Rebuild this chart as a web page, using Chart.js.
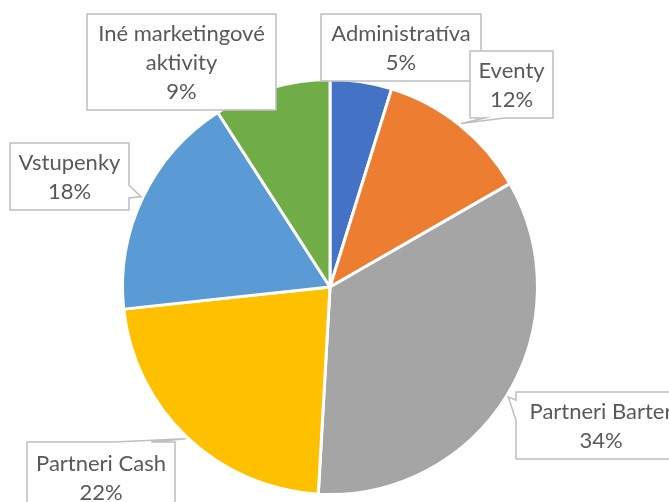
<!DOCTYPE html>
<html>
<head>
<meta charset="utf-8">
<script src="https://cdn.jsdelivr.net/npm/chart.js@4/dist/chart.umd.min.js"></script>
<style>
  html, body { margin: 0; padding: 0; background: #fff; }
  canvas { display: block; }
</style>
</head>
<body>
<canvas id="myChart" width="669" height="502"></canvas>
<script>
'use strict';

// categories and shares (percent of the whole)
let categories = [
  'Administratíva', 'Eventy', 'Partneri Barter',
  'Partneri Cash', 'Vstupenky', 'Iné marketingové aktivity'
];
let shares = [ 4.8, 11.9, 34.2, 22.4, 17.6, 9.1 ];
let colors = [ '#4472C4', '#ED7D31', '#A5A5A5', '#FFC000', '#5B9BD5', '#70AD47' ];

const FONT = '22px Lato';
const LINE_H = 29;

// split a label into lines that fit the box
function wrap ( ctx, text, maxW ) {
  let words = text.split( ' ' );
  let lines = [];
  let cur = '';
  for ( let i = 0; i < words.length; i++ ) {
    let test = cur ? cur + ' ' + words[i] : words[i];
    if ( cur && ctx.measureText( test ).width > maxW ) {
      lines.push( cur );
      cur = words[i];
    } else {
      cur = test;
    }
  }
  if ( cur ) lines.push( cur );
  return lines;
}

// box outline with a wedge pointing at the slice
function calloutPath ( ctx, b, tip ) {
  let x0 = b.x, y0 = b.y, x1 = b.x + b.w, y1 = b.y + b.h;
  ctx.beginPath();
  ctx.moveTo( x0, y0 );
  if ( tip && b.side == 'top' ) {
    ctx.lineTo( x0 + b.w * b.at[0], y0 );
    ctx.lineTo( tip.x, tip.y );
    ctx.lineTo( x0 + b.w * b.at[1], y0 );
  }
  ctx.lineTo( x1, y0 );
  if ( tip && b.side == 'right' ) {
    ctx.lineTo( x1, y0 + b.h * b.at[0] );
    ctx.lineTo( tip.x, tip.y );
    ctx.lineTo( x1, y0 + b.h * b.at[1] );
  }
  ctx.lineTo( x1, y1 );
  if ( tip && b.side == 'bottom' ) {
    ctx.lineTo( x0 + b.w * b.at[1], y1 );
    ctx.lineTo( tip.x, tip.y );
    ctx.lineTo( x0 + b.w * b.at[0], y1 );
  }
  ctx.lineTo( x0, y1 );
  if ( tip && b.side == 'left' ) {
    ctx.lineTo( x0, y0 + b.h * b.at[1] );
    ctx.lineTo( tip.x, tip.y );
    ctx.lineTo( x0, y0 + b.h * b.at[0] );
  }
  ctx.closePath();
}

const callouts = {
  id: 'callouts',
  afterDatasetsDraw ( chart, args, opts ) {
    let ctx = chart.ctx;
    let meta = chart.getDatasetMeta( 0 );
    let data = chart.data.datasets[0].data;
    let total = data.reduce( ( a, b ) => a + b, 0 );
    ctx.save();
    ctx.font = FONT;
    for ( let i = 0; i < meta.data.length; i++ ) {
      let arc = meta.data[i];
      let b = opts.boxes[i];
      let mid = ( arc.startAngle + arc.endAngle ) / 2;
      let tip = {
        x: arc.x + Math.cos( mid ) * ( arc.outerRadius + 2 ),
        y: arc.y + Math.sin( mid ) * ( arc.outerRadius + 2 )
      };
      if ( !b.side ) tip = null;

      calloutPath( ctx, b, tip );
      ctx.fillStyle = '#ffffff';
      ctx.fill();
      ctx.lineWidth = 1.5;
      ctx.strokeStyle = '#BFBFBF';
      ctx.stroke();

      let lines = wrap( ctx, chart.data.labels[i], b.w - 16 );
      lines.push( Math.round( data[i] / total * 100 ) + '%' );
      ctx.fillStyle = '#595959';
      ctx.textAlign = 'center';
      ctx.textBaseline = 'middle';
      let top = b.y + b.h / 2 - ( lines.length - 1 ) * LINE_H / 2 + 1;
      for ( let k = 0; k < lines.length; k++ ) {
        ctx.fillText( lines[k], b.x + b.w / 2, top + k * LINE_H );
      }
    }
    ctx.restore();
  }
};

let ctx = document.getElementById( 'myChart' ).getContext( '2d' );
let myChart = new Chart( ctx, {
  type: 'pie',
  data: {
    labels: categories,
    datasets: [{
      data: shares,
      backgroundColor: colors,
      borderColor: '#ffffff',
      borderWidth: 3
    }]
  },
  options: {
    responsive: false,
    animation: false,
    layout: {
      padding: { left: 121, right: 130, top: 78, bottom: 6 }
    },
    plugins: {
      legend: { display: false },
      tooltip: { enabled: false },
      callouts: {
        boxes: [
          { x: 321, y: 14, w: 160, h: 67 },
          { x: 470, y: 51, w: 83, h: 67, side: 'bottom', at: [ 0.18, 0.42 ] },
          { x: 516, y: 392, w: 170, h: 67, side: 'left', at: [ 0.12, 0.42 ] },
          { x: 27, y: 442, w: 148, h: 70, side: 'top', at: [ 0.59, 0.84 ] },
          { x: 10, y: 143, w: 119, h: 67, side: 'right', at: [ 0.63, 0.82 ] },
          { x: 87, y: 14, w: 189, h: 96 }
        ]
      }
    }
  },
  plugins: [ callouts ]
} );
</script>
</body>
</html>
